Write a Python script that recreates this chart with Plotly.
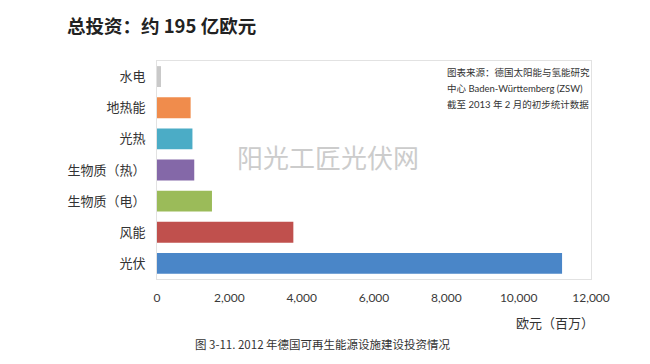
import plotly.graph_objects as go

categories = ["水电", "地热能", "光热", "生物质（热）", "生物质（电）", "风能", "光伏"]
values = [110, 930, 980, 1030, 1520, 3770, 11200]
colors = ["#c9c9c9", "#f08c4c", "#4bacc6", "#8468a8", "#9bbb59", "#c0504d", "#4a86c8"]
tick_vals = [0, 2000, 4000, 6000, 8000, 10000, 12000]
tick_text = ["0", "2,000", "4,000", "6,000", "8,000", "10,000", "12,000"]
source_lines = ["图表来源：德国太阳能与氢能研究", "中心 Baden-Württemberg (ZSW)", "截至 2013 年 2 月的初步统计数据"]

CJK = "Noto Sans CJK SC"

fig = go.Figure(go.Bar(
    x=values, y=categories, orientation="h",
    marker=dict(color=colors, line=dict(width=0)),
    width=0.67,
))

fig.update_layout(
    width=650, height=364,
    margin=dict(l=157, r=59, t=61, b=85),
    paper_bgcolor="white", plot_bgcolor="white",
    showlegend=False,
    xaxis=dict(range=[0, 12000], tickvals=tick_vals, ticktext=tick_text,
               showgrid=False, zeroline=False, showline=True, mirror=True,
               linecolor="#e2e2e2", linewidth=1, ticks="",
               tickfont=dict(family="Lato, " + CJK, size=12, color="#3a3a3a"),
               ticklabelstandoff=8),
    yaxis=dict(range=[6.5, -0.5], showgrid=False, zeroline=False,
               showline=True, mirror=True, linecolor="#e2e2e2", linewidth=1,
               ticks="", tickfont=dict(family=CJK, size=13, color="#333333"),
               ticklabelstandoff=8),
    font=dict(family=CJK),
)

fig.add_annotation(text="<b>总投资：约 195 亿欧元</b>", xref="paper", yref="paper",
                   x=(65-157)/434, y=1 + (61-25)/218, xanchor="left", yanchor="middle",
                   showarrow=False, font=dict(family=CJK, size=18.5, color="#222222"))

for i, line in enumerate(source_lines):
    fig.add_annotation(text=line, xref="paper", yref="paper",
                       x=(445-157)/434, y=(279-(72+16*i))/218,
                       xanchor="left", yanchor="middle", align="left", showarrow=False,
                       font=dict(family="Lato, " + CJK, size=9.5, color="#333333"))

fig.add_annotation(text="阳光工匠光伏网", xref="paper", yref="paper",
                   x=(328-157)/434, y=(279-156)/218, xanchor="center", yanchor="middle",
                   showarrow=False, font=dict(family=CJK, size=26, color="#cccccc"))

fig.add_annotation(text="欧元（百万）", xref="paper", yref="paper",
                   x=(596-157)/434, y=-(322-279)/218, xanchor="right", yanchor="middle",
                   showarrow=False, font=dict(family=CJK, size=13, color="#333333"))

fig.add_annotation(text="图 3-11. 2012 年德国可再生能源设施建设投资情况", xref="paper", yref="paper",
                   x=(323-157)/434, y=-(344-279)/218, xanchor="center", yanchor="middle",
                   showarrow=False, font=dict(family=CJK, size=11.5, color="#333333"))

fig.write_html("out.html")
